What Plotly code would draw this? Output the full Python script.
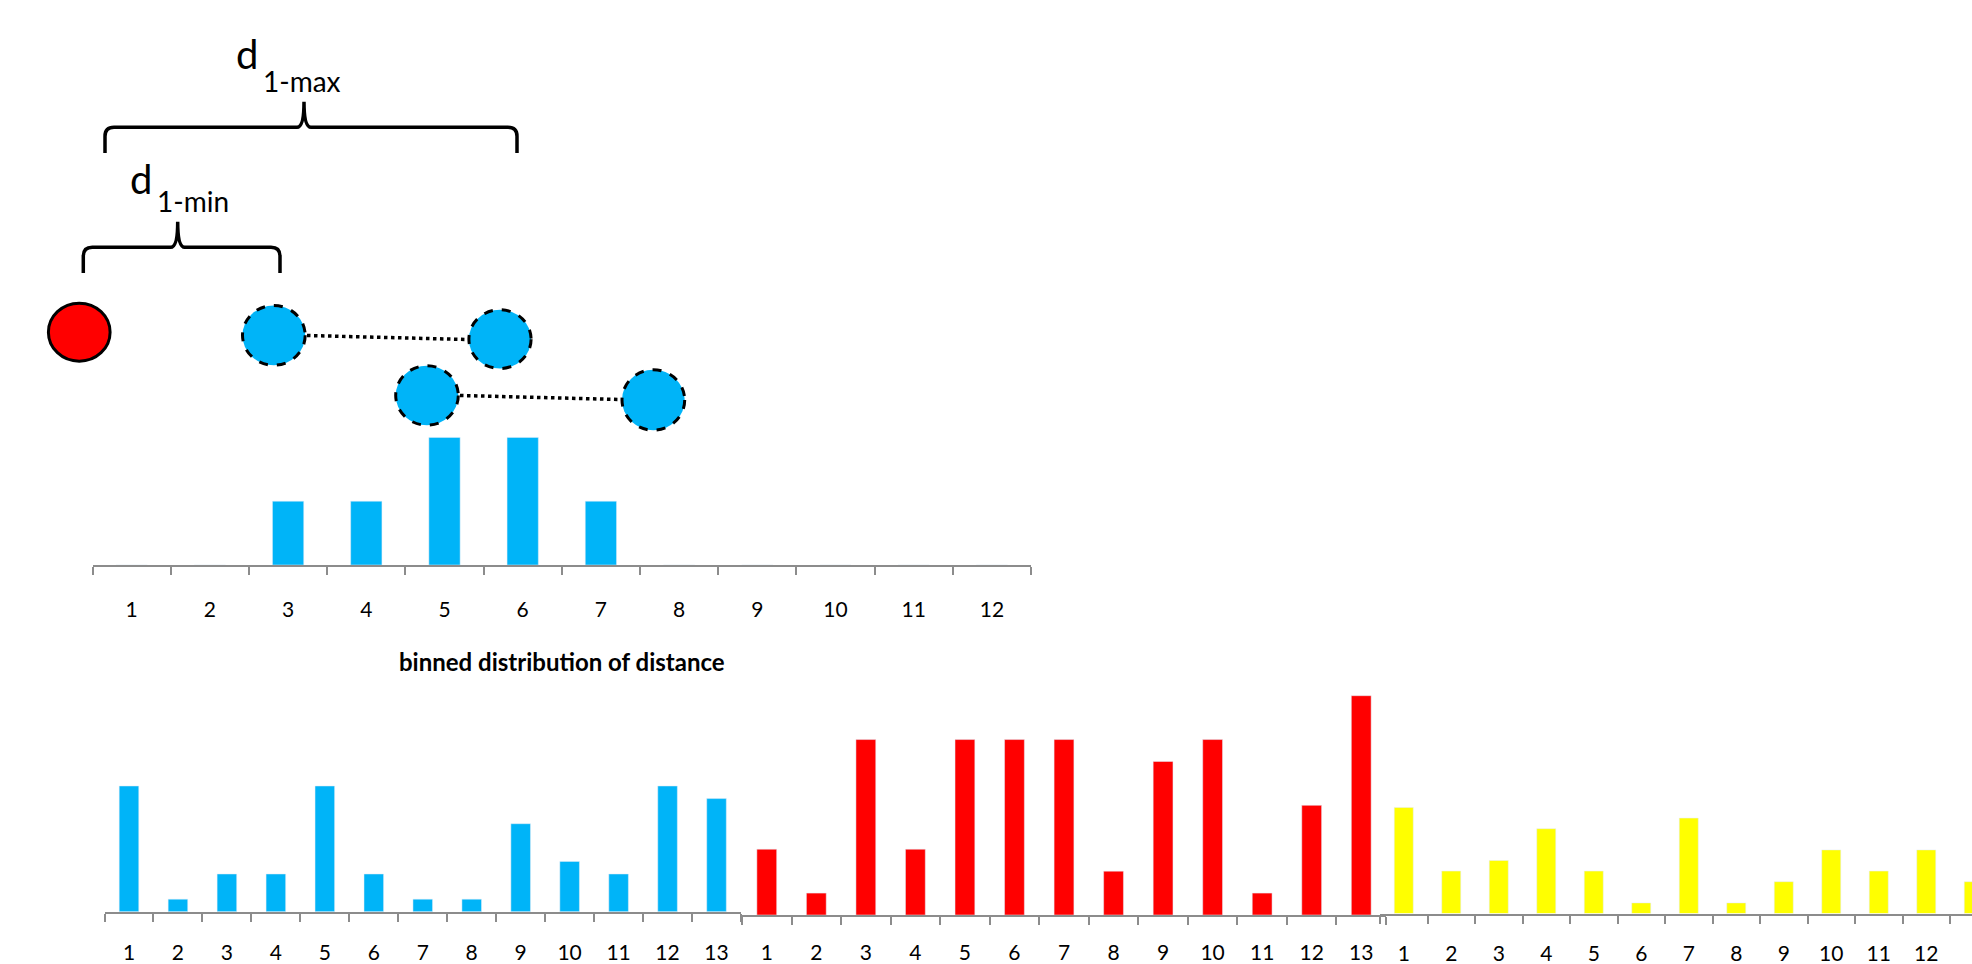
import plotly.graph_objects as go

W, H = 1972, 964

# ---------------- data ----------------
top_categories = [str(i) for i in range(1, 13)]
top_values = [0, 0, 1, 1, 2, 2, 1, 0, 0, 0, 0, 0]
top_axis_title = "binned distribution of distance"

bottom_categories = [str(i) for i in range(1, 14)]
blue_values = [10, 1, 3, 3, 10, 3, 1, 1, 7, 4, 3, 10, 9]
red_values = [3, 1, 8, 3, 8, 8, 8, 2, 7, 8, 1, 5, 10]
yellow_values = [10, 4, 5, 8, 4, 1, 9, 1, 3, 6, 4, 6, 3]

BLUE = "#00B4F8"
RED = "#FF0000"
YELLOW = "#FFFF00"
AXIS_GRAY = "#8C8C8C"
FONT = "Lato"
TICK_SIZE = 21


def fx(px):
    return px / W


def fy(py):
    return 1 - py / H


fig = go.Figure()

fig.add_trace(go.Bar(x=top_categories, y=top_values, marker_color=BLUE, width=0.4,
                     xaxis="x", yaxis="y"))
fig.add_trace(go.Bar(x=bottom_categories, y=blue_values, marker_color=BLUE, width=0.4,
                     xaxis="x2", yaxis="y2"))
fig.add_trace(go.Bar(x=bottom_categories, y=red_values, marker_color=RED, width=0.4,
                     xaxis="x3", yaxis="y3"))
fig.add_trace(go.Bar(x=bottom_categories, y=yellow_values, marker_color=YELLOW, width=0.4,
                     xaxis="x4", yaxis="y4"))


def xaxis_style(domain, rng, anchor, standoff):
    return dict(
        domain=domain, range=rng, anchor=anchor, type="category", automargin=False,
        showline=True, linecolor=AXIS_GRAY, linewidth=2,
        ticks="outside", tickson="boundaries", ticklen=8, tickwidth=2, tickcolor=AXIS_GRAY,
        showgrid=False, zeroline=False, fixedrange=True,
        tickfont=dict(family=FONT, size=TICK_SIZE, color="black"),
        ticklabelstandoff=standoff,
    )


def yaxis_style(base_px, unit_px, top_val, anchor):
    top_px = base_px - unit_px * top_val
    return dict(domain=[fy(base_px), fy(top_px)], range=[0, top_val], anchor=anchor,
                automargin=False, visible=False, showgrid=False, zeroline=False,
                fixedrange=True)


fig.update_layout(
    xaxis=xaxis_style([fx(92.6), fx(1031)], [-0.5, 11.5], "y", 25),
    yaxis=yaxis_style(565, 63.8, 2.3, "x"),
    xaxis2=xaxis_style([fx(104.5), fx(741)], [-0.5, 12.5], "y2", 21),
    yaxis2=yaxis_style(911.7, 12.57, 11, "x2"),
    xaxis3=xaxis_style([fx(742), fx(1386)], [-0.5, 12.5], "y3", 18),
    yaxis3=yaxis_style(915, 21.93, 10.6, "x3"),
    xaxis4=xaxis_style([fx(1380), 1.0], [-0.5, -0.5 + (W - 1380) / 47.5], "y4", 20),
    yaxis4=yaxis_style(913.5, 10.6, 11, "x4"),
)

# ---------------- diagram shapes ----------------
shapes = []
circles = [
    # (x0, y0, x1, y1, fill, dash)
    (48.4, 303.2, 110.1, 361.2, RED, "solid"),
    (242.5, 305.5, 305.2, 365.2, BLUE, "dash"),
    (468.9, 309.8, 531.1, 368.5, BLUE, "dash"),
    (395.7, 365.8, 458.3, 425.2, BLUE, "dash"),
    (622.0, 369.8, 684.7, 430.2, BLUE, "dash"),
]
connectors = [((307, 335.5), (467, 339.5)), ((460, 395.5), (620.5, 399.5))]
for (a, b) in connectors:
    shapes.append(dict(type="line", xref="paper", yref="paper",
                       x0=fx(a[0]), y0=fy(a[1]), x1=fx(b[0]), y1=fy(b[1]),
                       line=dict(color="black", width=3.5, dash="dot"), layer="above"))
for (x0, y0, x1, y1, fill, dash) in circles:
    shapes.append(dict(type="circle", xref="paper", yref="paper",
                       x0=fx(x0), y0=fy(y1), x1=fx(x1), y1=fy(y0),
                       fillcolor=fill, line=dict(color="black", width=3, dash=dash),
                       layer="above"))


def brace(left, right, tip_x, base_y, bar_y, tip_y, r=9):
    pts = [
        f"M {fx(left)},{fy(base_y)}",
        f"L {fx(left)},{fy(bar_y + r)}",
        f"Q {fx(left)},{fy(bar_y)} {fx(left + r)},{fy(bar_y)}",
        f"L {fx(tip_x - 7)},{fy(bar_y)}",
        f"Q {fx(tip_x)},{fy(bar_y)} {fx(tip_x)},{fy(tip_y)}",
        f"Q {fx(tip_x)},{fy(bar_y)} {fx(tip_x + 7)},{fy(bar_y)}",
        f"L {fx(right - r)},{fy(bar_y)}",
        f"Q {fx(right)},{fy(bar_y)} {fx(right)},{fy(bar_y + r)}",
        f"L {fx(right)},{fy(base_y)}",
    ]
    return dict(type="path", xref="paper", yref="paper", path=" ".join(pts),
                line=dict(color="black", width=3.5), layer="above")


shapes.append(brace(105, 517, 304, 153, 127.3, 101.7))
shapes.append(brace(83.3, 280, 177.7, 273, 247.3, 221.7))

annotations = [
    dict(text="d", x=fx(234), y=fy(54), xanchor="left", yanchor="middle",
         font=dict(family=FONT, size=40, color="black")),
    dict(text="1-max", x=fx(261), y=fy(81), xanchor="left", yanchor="middle",
         font=dict(family=FONT, size=28, color="black")),
    dict(text="d", x=fx(127.5), y=fy(179), xanchor="left", yanchor="middle",
         font=dict(family=FONT, size=40, color="black")),
    dict(text="1-min", x=fx(154.5), y=fy(201), xanchor="left", yanchor="middle",
         font=dict(family=FONT, size=28, color="black")),
    dict(text=f"<b>{top_axis_title}</b>", x=fx(561.8), y=fy(661), xanchor="center",
         yanchor="middle", font=dict(family=FONT, size=24, color="black")),
]
for a in annotations:
    a.update(xref="paper", yref="paper", showarrow=False)

fig.update_layout(
    width=W, height=H, autosize=False,
    margin=dict(l=0, r=0, t=0, b=0, pad=0, autoexpand=False),
    paper_bgcolor="white", plot_bgcolor="white",
    showlegend=False, bargap=0.6,
    shapes=shapes, annotations=annotations,
)

fig.write_html("out.html", config={"displayModeBar": False})
